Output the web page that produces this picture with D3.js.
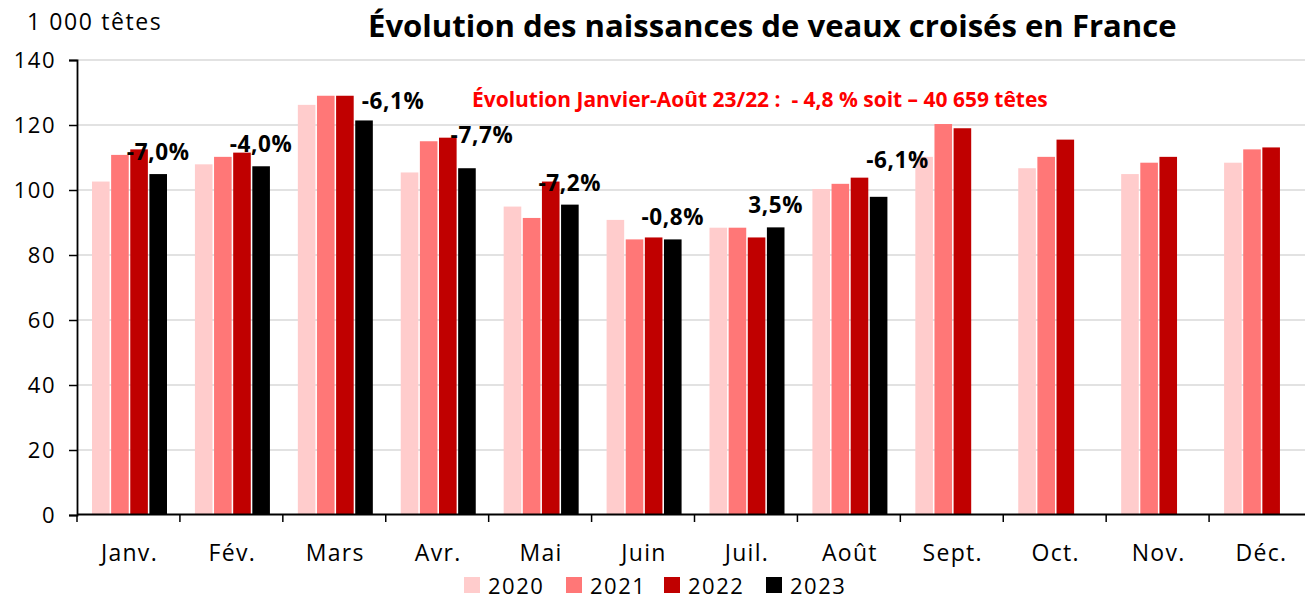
<!DOCTYPE html>
<html><head><meta charset="utf-8">
<script src="https://cdn.jsdelivr.net/npm/d3@7"></script>
<style>
body{margin:0;background:#fff;}
svg{display:block;}
text{font-family:"Open Sans","Noto Sans",sans-serif;fill:#000;}
</style></head>
<body><svg id="chart" width="1305" height="599"></svg>
<script>
const months = ["Janv.","Fév.","Mars","Avr.","Mai","Juin","Juil.","Août","Sept.","Oct.","Nov.","Déc."];
const years = ["2020","2021","2022","2023"];
const v2020 = [102.6,107.9,126.2,105.4,94.9,90.8,88.4,100.3,110.2,106.7,104.9,108.4];
const v2021 = [110.8,110.2,129.0,115.0,91.4,84.8,88.4,101.9,120.3,110.2,108.4,112.5];
const v2022 = [112.5,111.5,129.0,116.1,102.6,85.4,85.4,103.8,119.0,115.5,110.2,113.1];
const v2023 = [104.9,107.3,121.4,106.7,95.5,84.8,88.5,97.9,null,null,null,null];
const pctLabels = ["-7,0%","-4,0%","-6,1%","-7,7%","-7,2%","-0,8%","3,5%","-6,1%"];
const yTicks = [0,20,40,60,80,100,120,140];
const colors = ["#FFCCCC","#FF7777","#C00000","#000000"];
const titleText = "Évolution des naissances de veaux croisés en France";
const unitText = "1 000 têtes";
const noteText = "Évolution Janvier-Août 23/22 :  - 4,8 % soit – 40 659 têtes";

const series = [v2020,v2021,v2022,v2023];
const svg = d3.select("#chart");
const x0 = 77, x1 = 1312, yBase = 515, yTop = 60;

const x = d3.scaleBand().domain(months).range([x0,x1]).padding(0);
const xs = d3.scaleBand().domain(years).range([15,90]).paddingInner(0.08);
const y = d3.scaleLinear().domain([0,140]).range([yBase,yTop]);

// gridlines
svg.append("g").selectAll("line").data(yTicks.filter(d=>d>0)).join("line")
  .attr("x1",x0).attr("x2",x1).attr("y1",d=>y(d)).attr("y2",d=>y(d))
  .attr("stroke","#d9d9d9").attr("stroke-width",1.5);

// bars
const gm = svg.append("g").selectAll("g").data(months).join("g")
  .attr("transform",d=>`translate(${x(d)},0)`);
gm.selectAll("rect").data((m,i)=>years.map((yr,k)=>({yr,k,v:series[k][i]})).filter(d=>d.v!=null))
  .join("rect")
  .attr("x",d=>xs(d.yr)).attr("width",xs.bandwidth())
  .attr("y",d=>y(d.v)).attr("height",d=>yBase-y(d.v))
  .attr("fill",d=>colors[d.k]);

// y axis
const yAxis = d3.axisLeft(y).tickValues(yTicks).tickSize(8).tickPadding(13);
const ya = svg.append("g").attr("transform",`translate(${x0},0)`).call(yAxis);
ya.select(".domain").attr("stroke","#000").attr("stroke-width",1.8);
ya.selectAll(".tick line").attr("stroke","#000").attr("stroke-width",1.5);
ya.selectAll(".tick text").attr("font-size",22).attr("letter-spacing","1.5px")
  .attr("font-family","'Open Sans',sans-serif").attr("fill","#000");

// x axis line + ticks at boundaries
svg.append("line").attr("x1",x0).attr("x2",x1).attr("y1",yBase-0.5).attr("y2",yBase-0.5)
  .attr("stroke","#000").attr("stroke-width",1.8);
svg.append("g").selectAll("line").data(months).join("line")
  .attr("x1",d=>x(d)).attr("x2",d=>x(d)).attr("y1",yBase).attr("y2",yBase+7)
  .attr("stroke","#000").attr("stroke-width",1.5);
svg.append("g").selectAll("text").data(months).join("text")
  .attr("x",d=>x(d)+x.bandwidth()/2+1).attr("y",561)
  .attr("text-anchor","middle").attr("font-size",23).attr("letter-spacing","1.3px")
  .text(d=>d);

// percent labels
const adj = {2:[29,3],3:[15,-11],7:[19,-15]};
svg.append("g").selectAll("text").data(pctLabels).join("text")
  .attr("x",(d,i)=>x(months[i])+xs("2023")+xs.bandwidth()/2+(adj[i]?adj[i][0]:0))
  .attr("y",(d,i)=>y(v2023[i])-14+(adj[i]?adj[i][1]:0))
  .attr("text-anchor","middle").attr("font-size",22.5).attr("font-weight",700)
  .attr("letter-spacing","0.6px")
  .text(d=>d);

// title
const t = svg.append("text").attr("x",368).attr("y",37).attr("font-size",26)
  .attr("font-weight",700).text(titleText);
const tw = t.node().getComputedTextLength();
t.attr("font-size",26*809/tw);

// unit
svg.append("text").attr("x",27).attr("y",30).attr("font-size",23).attr("letter-spacing","1.6px").text(unitText);

// note
const n = svg.append("text").attr("x",472).attr("y",107).attr("font-size",17)
  .attr("font-weight",700).attr("fill","#FF0000").style("fill","#FF0000")
  .attr("font-family","'Liberation Sans',Arial,sans-serif")
  .attr("xml:space","preserve").style("white-space","pre").text(noteText);
const nw = n.node().getComputedTextLength();
n.attr("font-size",17*576/nw);

// legend
const legX = [464,566,664,766];
const lg = svg.append("g").selectAll("g").data(years).join("g")
  .attr("transform",(d,i)=>`translate(${legX[i]},577)`);
lg.append("rect").attr("width",16).attr("height",16).attr("fill",(d,i)=>colors[i]);
lg.append("text").attr("x",24).attr("y",16.5).attr("font-size",22).attr("letter-spacing","1.5px").text(d=>d);
</script></body></html>
